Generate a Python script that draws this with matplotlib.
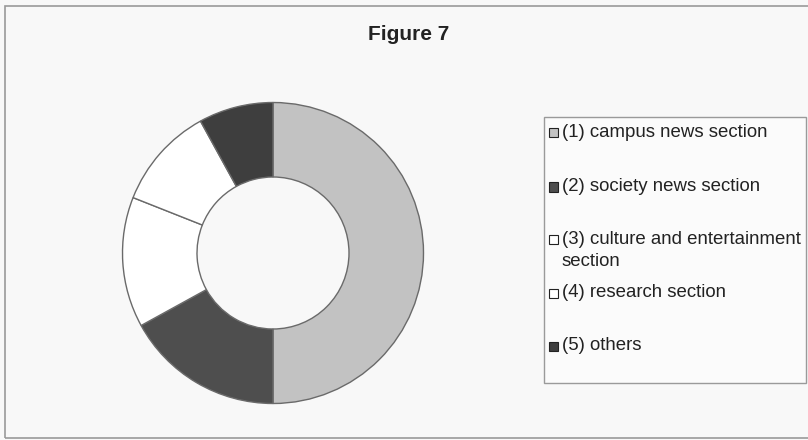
import matplotlib.pyplot as plt
from matplotlib.patches import Rectangle

plt.rcParams['font.family'] = ['Liberation Sans', 'DejaVu Sans']

W, H = 808, 440

labels = ['(1) campus news section',
          '(2) society news section',
          '(3) culture and entertainment\nsection',
          '(4) research section',
          '(5) others']
shares = [50, 17, 14, 11, 8]
colors = ['#c2c2c2', '#4e4e4e', '#ffffff', '#ffffff', '#3e3e3e']

fig = plt.figure(figsize=(W / 100, H / 100), dpi=100, facecolor='#f8f8f8')

# outer frame of the scanned chart
fig.add_artist(Rectangle((5 / W, 1 - 438 / H), 810 / W, 432 / H,
                         transform=fig.transFigure, fill=False,
                         edgecolor='#9a9a9a', lw=1.2))

fig.text(409 / W, 1 - 35 / H, 'Figure 7', ha='center', va='center',
         fontsize=15, fontweight='bold', color='#222222')

# donut
cx, cy, r = 273, 253, 152
ax = fig.add_axes([(cx - r) / W, (H - cy - r) / H, 2 * r / W, 2 * r / H])
ax.pie(shares, colors=colors, startangle=90, counterclock=False,
       wedgeprops=dict(width=0.495, edgecolor='#6a6a6a', linewidth=1))
ax.set_xlim(-1.01, 1.01)
ax.set_ylim(-1.01, 1.01)
ax.set_facecolor('none')
ax.axis('off')

# legend box drawn by hand to keep the original spacing
fig.add_artist(Rectangle((544 / W, 1 - 383 / H), 262 / W, 266 / H,
                         transform=fig.transFigure, facecolor='#fbfbfb',
                         edgecolor='#9a9a9a', lw=1))
rows = [133, 187, 240, 293, 346]
for lab, col, y in zip(labels, colors, rows):
    fig.add_artist(Rectangle((549 / W, 1 - (y + 4.5) / H), 9 / W, 9 / H,
                             transform=fig.transFigure, facecolor=col,
                             edgecolor='#222222', lw=0.8))
    fig.text(562 / W, 1 - (y - 9) / H, lab, ha='left', va='top',
             fontsize=13.4, color='#222222', linespacing=1.4)

fig.savefig('out.png', dpi=100, facecolor=fig.get_facecolor())
